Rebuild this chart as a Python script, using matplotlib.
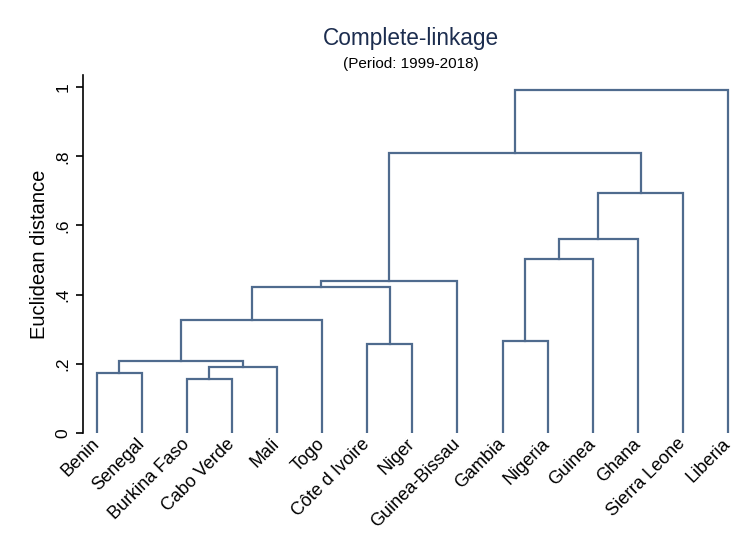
# Complete-linkage dendrogram of West African countries (1999-2018).
import matplotlib.pyplot as plt

# Leaf labels in the order they appear on the x axis.
Countries = [
    'Benin', 'Senegal', 'Burkina Faso', 'Cabo Verde', 'Mali', 'Togo',
    'Côte d Ivoire', 'Niger', 'Guinea-Bissau', 'Gambia', 'Nigeria',
    'Guinea', 'Ghana', 'Sierra Leone', 'Liberia'
]

# Merges: left cluster, right cluster, height (new cluster ids start at 15).
MergeLeft = [2, 0, 15, 16, 6, 9, 18, 21, 22, 20, 24, 25, 23, 27]
MergeRight = [3, 1, 4, 17, 7, 10, 5, 19, 8, 11, 12, 13, 26, 14]
MergeHeight = [0.156, 0.1725, 0.19, 0.209, 0.258, 0.266, 0.327, 0.423,
               0.440, 0.502, 0.561, 0.694, 0.808, 0.991]

YTicks = [0, 0.2, 0.4, 0.6, 0.8, 1.0]
YTickLabels = ['0', '.2', '.4', '.6', '.8', '1']

# Plot properties.
FontType = ['Liberation Sans', 'DejaVu Sans']
LineColor = '#4f6b8e'
TitleColor = '#1c2d4f'
plt.rcParams['font.family'] = FontType

fig = plt.figure(figsize=(7.51, 5.48), dpi=100)
ax = fig.add_axes([0.1105, 0.2099, 0.877, 0.6533])

# Position and height of every node.
n = len(Countries)
NodeX = {i: i + 1 for i in range(n)}
NodeY = {i: 0.0 for i in range(n)}
for k, (a, b, h) in enumerate(zip(MergeLeft, MergeRight, MergeHeight)):
    ax.plot([NodeX[a], NodeX[a], NodeX[b], NodeX[b]],
            [NodeY[a], h, h, NodeY[b]], c=LineColor, lw=1.6,
            solid_joinstyle='miter')
    NodeX[n + k] = (NodeX[a] + NodeX[b]) / 2
    NodeY[n + k] = h

# Configure axes.
ax.set_xlim([0.7, 15.3])
ax.set_ylim([0, 1.035])
for s in ['top', 'right', 'bottom']:
    ax.spines[s].set_visible(False)
ax.spines['left'].set_linewidth(1.2)
ax.spines['left'].set_bounds(0, 1.035)
ax.set_yticks(YTicks)
ax.set_yticklabels(YTickLabels, rotation=90, va='center', fontsize=12.5)
ax.tick_params(axis='y', length=5, width=1.2, pad=4)
ax.set_xticks(range(1, n + 1))
ax.set_xticklabels(Countries, rotation=45, ha='right', va='center',
                   rotation_mode='anchor', fontsize=13)
ax.tick_params(axis='x', length=0, pad=6)
ax.set_ylabel('Euclidean distance', fontsize=14.5, labelpad=5)

fig.text(0.547, 0.930, 'Complete-linkage', ha='center', va='center',
         fontsize=16.3, color=TitleColor)
fig.text(0.547, 0.884, '(Period: 1999-2018)', ha='center', va='center',
         fontsize=11, color='black')

fig.savefig('out.png', dpi=100)
